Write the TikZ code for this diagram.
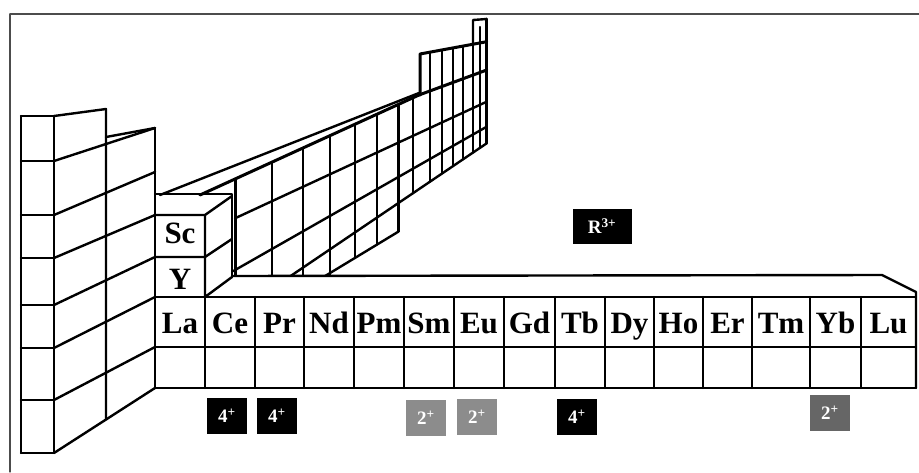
\documentclass[tikz,border=0pt]{standalone}
\usepackage{fontspec}
\setmainfont{Liberation Serif}
\begin{document}
\begin{tikzpicture}[x=1pt,y=-1pt,line join=round,line cap=round,
  grid/.style={line width=2.4pt,black},
  thick edge/.style={line width=3pt,black},
  frame/.style={line width=1.1pt,black!70},
  el/.style={font=\fontsize{31}{31}\selectfont\bfseries,inner sep=0pt,anchor=base},
  chargebox/.style={minimum width=40pt,minimum height=36pt,inner sep=0pt,text=white,font=\fontsize{19}{19}\selectfont\bfseries},
  darkbox/.style={chargebox,fill=black},
  greybox/.style={chargebox,fill=black!45},
  darkgreybox/.style={chargebox,fill=black!60}]
\useasboundingbox (0,0) rectangle (919,472);
% frame
\draw[frame] (10,14) -- (919,14);
\draw[frame] (10,14) -- (10,472);

% ---------- back wall (d- and p-block)
\begin{scope}
\clip (0,0) rectangle (919,275.5);
\draw[grid] (235,218.3) -- (486.7,101.7);
\draw[grid] (233,271.2) -- (486.7,126.7);
\draw[grid] (230,317.0) -- (486.7,143.3);
\draw[grid] (300,291.2) -- (398.3,231.7);
\foreach \x/\t/\b in {272/162/300,303/148/300,330/135.6/300,355/124.2/257.9,377/114.2/244.6,398.3/104.6/231.7,413/97.7/193.2}{
  \draw[grid] (\x,\t) -- (\x,\b);
}
\foreach \x/\t/\b in {430/52.2/181.7,442/50/173.6,453/48/166.1,463/46.1/159.3,473/44.3/152.6,480/43/147.8}{
  \draw[grid] (\x,\t) -- (\x,\b);
}
\draw[thick edge] (486.7,19) -- (486.7,143.3);
\draw[thick edge] (235,179) -- (235,276);
\end{scope}
% top edges of the wall
\draw[thick edge] (200,195) -- (419,95) -- (486.7,70);
\draw[grid] (160,195) -- (419,93);
\draw[thick edge] (420,95) -- (420,54) -- (486.7,41.7);
% He cell
\draw[grid] (473,44.3) -- (473,20) -- (486.7,19);
\draw[grid] (480,27) -- (480,43);

% ---------- left block (groups 1 and 2)
\draw[grid] (21,116) -- (21,453);
\draw[grid] (54,116) -- (54,453);
\foreach \y in {116,161,215,258,305,348,400,453}{
  \draw[grid] (21,\y) -- (54,\y);
}
\draw[grid] (54,116) -- (106,109) -- (106,419.5);
\draw[grid] (106,137) -- (155,128);
\foreach \a/\b in {161/128,215/172,258/215,305/257,348/297,400/347,453/388}{
  \draw[grid] (54,\a) -- (155,\b);
}

% ---------- Sc / Y block
\draw[grid] (155,128) -- (155,388);
\draw[grid] (155,194) -- (232,194) -- (232,277);
\draw[grid] (155,215) -- (205,215) -- (232,196);
\draw[grid] (155,257) -- (205,257) -- (232,239);
\draw[grid] (205,215) -- (205,297) -- (232,277);
\node[el] (sc) at (180,243) {Sc};
\node[el] (y) at (180,289) {Y};

% ---------- lanthanide slab
\draw[grid] (232,276) -- (882,275) -- (916,292) -- (916,388);
\draw[grid] (155,297) -- (916,297);
\draw[grid] (155,347) -- (916,347);
\draw[grid] (155,388) -- (916,388);
\foreach \x in {205,255,304,354,404,454,504,555,605,654,703,752,810,861}{
  \draw[grid] (\x,297) -- (\x,388);
}
\foreach \n/\a/\b in {La/155/205,Ce/205/255,Pr/255/304,Nd/304/354,Pm/354/404,Sm/404/454,Eu/454/504,Gd/504/555,Tb/555/605,Dy/605/654,Ho/654/703,Er/703/752,Tm/752/810,Yb/810/861,Lu/861/916}{
  \node[el] (\n) at ({(\a+\b)/2},333) {\n};
}

% ---------- charge labels
\node[darkbox] (ce4) at (227,416) {4\textsuperscript{+}};
\node[darkbox] (pr4) at (277,416) {4\textsuperscript{+}};
\node[greybox] (sm2) at (426,418) {2\textsuperscript{+}};
\node[greybox] (eu2) at (477,417) {2\textsuperscript{+}};
\node[darkbox] (tb4) at (577,417) {4\textsuperscript{+}};
\node[darkgreybox] (yb2) at (830,413) {2\textsuperscript{+}};
\node[fill=black,text=white,minimum width=59pt,minimum height=35pt,inner sep=0pt,font=\fontsize{19}{19}\selectfont\bfseries] (r3) at (602,226) {R\textsuperscript{3+}};
\end{tikzpicture}
\end{document}
